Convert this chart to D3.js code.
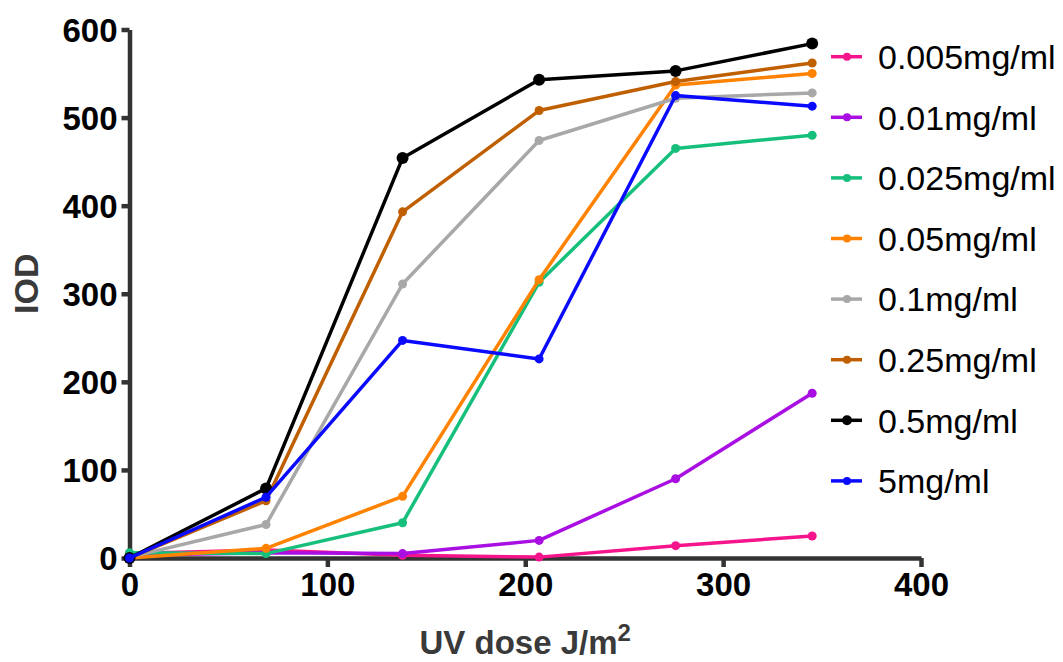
<!DOCTYPE html>
<html>
<head>
<meta charset="utf-8">
<script src="https://cdn.jsdelivr.net/npm/d3@7/dist/d3.min.js"></script>
<style>
  html, body { margin: 0; padding: 0; background: #fff; }
  svg { display: block; font-family: "Liberation Sans", Arial, Helvetica, sans-serif; }
</style>
</head>
<body>
<svg id="chart" width="1063" height="662"></svg>
<script>
// UV dose (J/m²) at which IOD was measured
const doses = [0, 69, 138, 207, 276, 345];

// IOD readings per concentration
const s0005 = [5, 9, 3, 1, 14, 25];
const s001  = [3, 6, 5, 20, 90, 187];
const s0025 = [6, 5, 40, 313, 465, 480];
const s005  = [0, 11, 70, 316, 537, 550];
const s01   = [1, 38, 311, 474, 522, 528];
const s025  = [0, 65, 393, 508, 541, 562];
const s05   = [0, 79, 454, 543, 553, 584];
const s5    = [0, 69, 247, 226, 525, 513];

const seriesNames = ["0.005mg/ml", "0.01mg/ml", "0.025mg/ml", "0.05mg/ml",
                     "0.1mg/ml", "0.25mg/ml", "0.5mg/ml", "5mg/ml"];
const seriesValues = [s0005, s001, s0025, s005, s01, s025, s05, s5];
const seriesColors = ["#f5148c", "#a90ee2", "#16c07c", "#ff8200",
                      "#a8a8a8", "#bf5f00", "#000000", "#0a0aff"];
const markerRadius = [4.5, 4.5, 4.5, 4.5, 4.5, 4.5, 6, 4.5];

const xTicks = [0, 100, 200, 300, 400];
const yTicks = [0, 100, 200, 300, 400, 500, 600];

const svg = d3.select("#chart");

const x = d3.scaleLinear().domain([0, 400]).range([129.5, 921]);
const y = d3.scaleLinear().domain([0, 600]).range([558, 29.5]);

const axisColor = "#333333";

// Y axis
const gy = svg.append("g")
  .attr("transform", `translate(${x(0)},0)`)
  .call(d3.axisLeft(y).tickValues(yTicks).tickSize(8).tickSizeOuter(0).tickPadding(4));
// X axis
const gx = svg.append("g")
  .attr("transform", `translate(0,${y(0)})`)
  .call(d3.axisBottom(x).tickValues(xTicks).tickSize(9).tickSizeOuter(0).tickPadding(6));

[gx, gy].forEach(g => {
  g.select(".domain").attr("stroke", axisColor).attr("stroke-width", 4.5);
  g.selectAll(".tick line").attr("stroke", axisColor).attr("stroke-width", 4.5);
  g.selectAll(".tick text")
    .attr("fill", "#000")
    .style("font-size", "33px")
    .style("font-weight", "bold")
    .style("font-family", "'Liberation Sans', Arial, sans-serif");
});
gy.selectAll(".tick text").attr("dy", "0.36em");

// Series lines and markers
const line = d3.line().x((d, i) => x(doses[i])).y(d => y(d));

seriesValues.forEach((vals, k) => {
  const g = svg.append("g");
  g.append("path")
    .datum(vals)
    .attr("fill", "none")
    .attr("stroke", seriesColors[k])
    .attr("stroke-width", 3.5)
    .attr("stroke-linejoin", "round")
    .attr("d", line);
  g.selectAll("circle")
    .data(vals)
    .join("circle")
    .attr("cx", (d, i) => x(doses[i]))
    .attr("cy", d => y(d))
    .attr("r", markerRadius[k])
    .attr("fill", seriesColors[k]);
});

// Axis titles
svg.append("text")
  .attr("transform", `translate(38,${y(300) - 10}) rotate(-90)`)
  .attr("text-anchor", "middle")
  .attr("fill", "#3a3a3a")
  .style("font-size", "34px")
  .style("font-weight", "bold")
  .text("IOD");

const xt = svg.append("text")
  .attr("x", (x(0) + x(400)) / 2)
  .attr("y", 654)
  .attr("text-anchor", "middle")
  .attr("fill", "#3a3a3a")
  .style("font-size", "33px")
  .style("font-weight", "bold");
xt.append("tspan").text("UV dose J/m");
xt.append("tspan").attr("dy", -13).style("font-size", "24px").text("2");

// Legend
const legend = svg.append("g");
seriesNames.forEach((name, k) => {
  const cy = 56.7 + k * 60.6;
  legend.append("line")
    .attr("x1", 831).attr("x2", 862)
    .attr("y1", cy).attr("y2", cy)
    .attr("stroke", seriesColors[k])
    .attr("stroke-width", 3.5);
  legend.append("circle")
    .attr("cx", 847).attr("cy", cy).attr("r", k === 6 ? 5 : 4)
    .attr("fill", seriesColors[k]);
  legend.append("text")
    .attr("x", 878).attr("y", cy)
    .attr("dy", "0.36em")
    .attr("fill", "#000")
    .style("font-size", "34px")
    .text(name);
});
</script>
</body>
</html>
